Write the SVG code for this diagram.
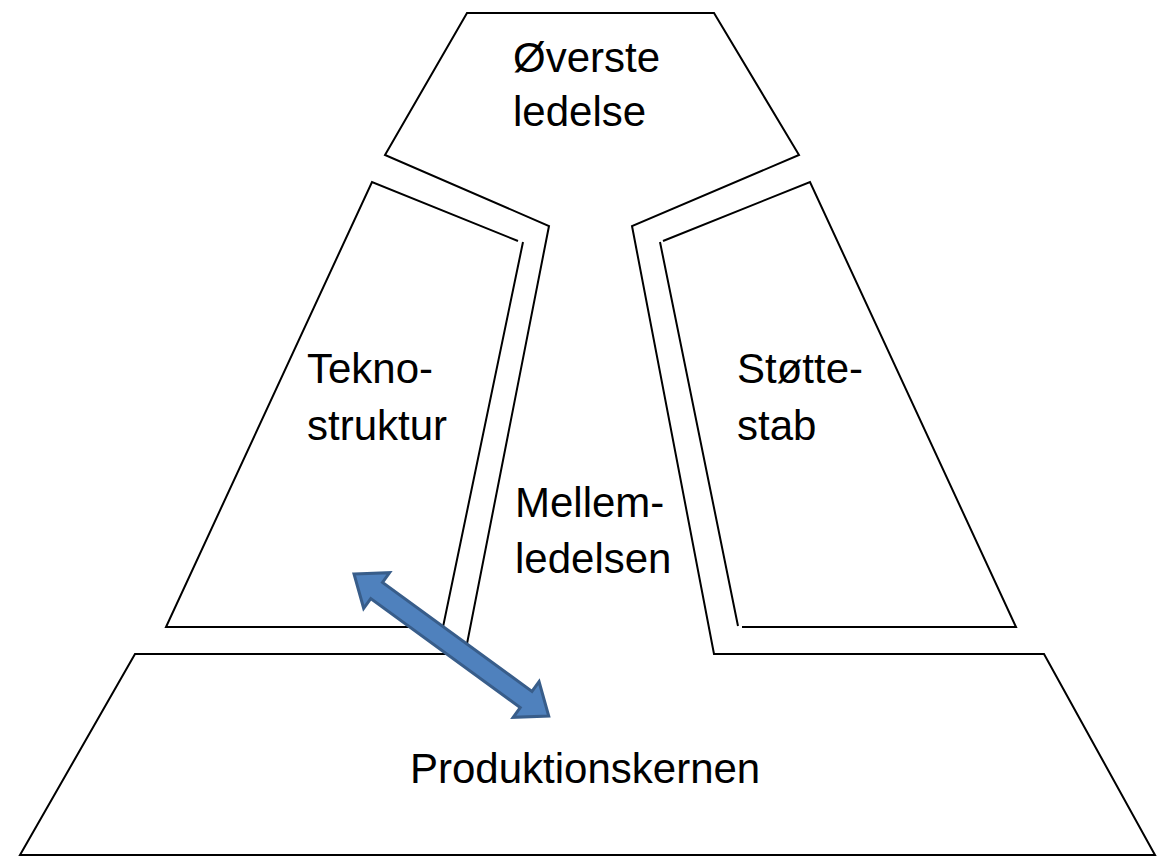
<svg xmlns="http://www.w3.org/2000/svg" width="1157" height="868" viewBox="0 0 1157 868">
<style>
.shape{fill:none;stroke:#000;stroke-width:2;stroke-linejoin:miter}
.lbl{font-family:"Liberation Sans",Arial,sans-serif;font-size:42px;fill:#000}
.arrow{fill:#4F81BD;stroke:#385D8A;stroke-width:3;stroke-linejoin:miter}
</style>
<rect width="1157" height="868" fill="#fff"/>
<g id="outer-shape">
<polygon class="shape" points="467,13 714,13 799,155 632,226 714,654 1044,654 1155,855 20,855 135,654 465,654 549,226 385,155"/>
</g>
<g id="teknostruktur">
<path class="shape" d="M523,242 L443,627 L166,627 L372,182 L518,241"/>
<text class="lbl" x="307" y="383">Tekno-</text>
<text class="lbl" x="307" y="440">struktur</text>
</g>
<g id="stottestab">
<path class="shape" d="M663,241 L810,182 L1016,627 L742,627 M738,626 L660,242"/>
<text class="lbl" x="737" y="383">Støtte-</text>
<text class="lbl" x="737" y="440">stab</text>
</g>
<g id="overste-ledelse">
<text class="lbl" x="513" y="72">Øverste</text>
<text class="lbl" x="513" y="126">ledelse</text>
</g>
<g id="mellemledelsen">
<text class="lbl" x="515" y="517">Mellem-</text>
<text class="lbl" x="515" y="573">ledelsen</text>
</g>
<g id="produktionskernen">
<text class="lbl" x="410" y="783">Produktionskernen</text>
</g>
<g id="connectors">
<path class="arrow" transform="translate(354,574) rotate(36.1)" d="M0,0 L28,-22 L28,-10 L213,-10 L213,-22 L241,0 L213,22 L213,10 L28,10 L28,22 Z"/>
</g>
</svg>
